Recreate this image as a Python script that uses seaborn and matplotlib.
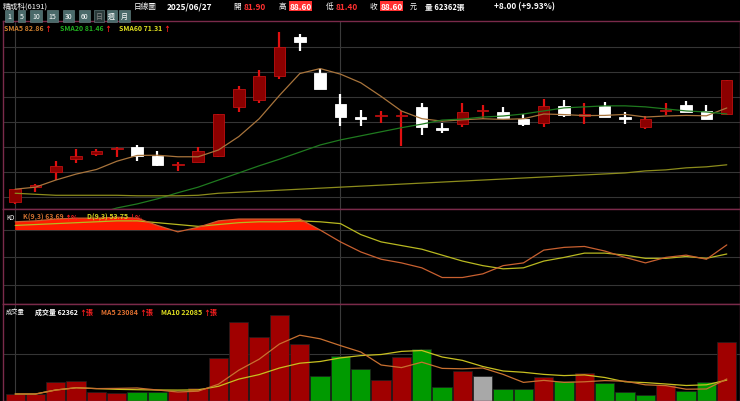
import numpy as np
import pandas as pd
import matplotlib.pyplot as plt
import seaborn as sns

# daily OHLC (36 sessions)
opens = [64.6, 67.5, 70.5, 73.0, 74.0, 75.0, 75.4, 73.6, 71.9, 72.5, 73.6, 83.3, 84.7, 89.4,
         97.1, 90.0, 83.9, 81.3, 81.5, 81.5, 83.3, 79.2, 79.9, 82.5, 82.3, 80.9, 80.1, 83.5,
         81.7, 83.5, 81.3, 79.3, 82.5, 83.7, 82.5, 81.9]
closes = [67.1, 67.9, 71.7, 73.6, 74.6, 75.2, 73.6, 71.9, 72.1, 74.6, 81.9, 86.8, 89.4, 95.1,
          96.1, 86.8, 81.3, 80.9, 81.7, 81.7, 79.3, 78.8, 82.3, 82.7, 81.1, 79.9, 83.5, 81.7,
          81.7, 81.3, 80.9, 80.9, 82.7, 82.3, 80.9, 88.6]
highs = [67.1, 68.1, 72.7, 75.0, 75.0, 75.4, 75.8, 74.6, 72.5, 75.4, 81.9, 87.4, 90.6, 98.1,
         97.7, 90.8, 85.9, 82.7, 82.5, 82.5, 84.1, 80.1, 84.1, 83.7, 83.3, 81.9, 84.9, 84.7,
         84.1, 84.3, 82.3, 81.5, 84.1, 84.5, 83.7, 88.6]
lows = [64.2, 66.5, 68.9, 72.3, 73.6, 73.4, 72.7, 71.7, 70.7, 72.5, 73.4, 82.3, 84.1, 88.8,
        94.3, 86.8, 79.5, 79.5, 80.1, 75.6, 77.8, 78.2, 79.3, 80.9, 81.1, 79.5, 79.3, 81.3,
        79.9, 81.3, 79.9, 79.0, 81.7, 82.3, 80.9, 81.7]
sma20 = [59.3, 59.8, 60.4, 61.2, 62.2, 63.4, 64.2, 65.2, 66.4, 67.5, 68.9, 70.3, 71.7, 73.0,
         74.4, 75.8, 76.8, 77.6, 78.4, 79.2, 79.9, 80.7, 80.9, 81.3, 81.5, 81.9, 82.5, 83.1,
         83.3, 83.5, 83.5, 83.3, 82.9, 82.5, 82.3, 81.9]
sma60 = [66.3, 66.1, 65.9, 65.9, 65.9, 65.9, 65.8, 65.8, 65.8, 65.9, 66.3, 66.5, 66.7, 66.9,
         67.1, 67.3, 67.5, 67.7, 67.9, 68.1, 68.3, 68.5, 68.7, 68.9, 69.1, 69.3, 69.5, 69.7,
         69.9, 70.1, 70.3, 70.7, 70.9, 71.3, 71.5, 71.9]
k_vals = [89, 90, 92, 93, 93, 94, 93, 85, 78, 83, 90, 92, 92, 92, 92, 80, 67, 56, 48, 44,
          38.6, 28, 28, 32, 41, 44, 58, 61, 62, 57, 50, 44, 50, 52.5, 48, 63.69]
d_vals = [85, 86, 87, 88, 89, 90, 90, 88, 86, 84, 86, 88, 89, 89, 90, 89, 87, 75, 67, 63,
          59, 52.5, 46, 41, 37.5, 38.6, 46, 50, 54.7, 54.7, 52.5, 49, 49, 51, 49, 53.75]
volume = [7400, 7400, 20100, 21100, 9500, 8500, 9500, 9500, 10600, 13700, 45500, 83500, 67600,
          90900, 60200, 26400, 47600, 33800, 22200, 46500, 55000, 14800, 31700, 26400, 12700,
          12700, 25400, 21100, 29600, 19000, 9500, 6300, 16900, 10600, 20100, 62362]
vol_dir = ['r', 'r', 'r', 'r', 'r', 'r', 'g', 'g', 'r', 'r', 'r', 'r', 'r', 'r', 'r', 'g', 'g', 'g',
           'r', 'r', 'g', 'g', 'r', 'n', 'g', 'g', 'r', 'g', 'r', 'g', 'g', 'g', 'r', 'g', 'g', 'r']

df = pd.DataFrame({'o': opens, 'c': closes, 'h': highs, 'l': lows, 'sma20': sma20,
                   'sma60': sma60, 'k': k_vals, 'd': d_vals, 'vol': volume})
df['i'] = np.arange(len(df))
df['sma5'] = df['c'].rolling(5, min_periods=1).mean()
df['vma5'] = df['vol'].rolling(5, min_periods=1).mean()
df['vma10'] = df['vol'].rolling(10, min_periods=1).mean()

sns.set_style('dark', {'axes.facecolor': 'black', 'figure.facecolor': 'black'})
plt.rcParams['font.family'] = ['Noto Sans CJK TC', 'DejaVu Sans']


def chain(ax, x, y, parts, fs=5, transform=None):
    # writes pieces of text one after another, each in its own colour
    t = ax.text(x, y, parts[0][0], color=parts[0][1], fontsize=fs, va='top', fontweight='bold',
                transform=transform or ax.transData)
    for txt, col in parts[1:]:
        gap = 6 if txt[0] not in '↑↓' else 0.5
        t = ax.annotate(txt, xy=(1, 0), xycoords=t, xytext=(gap, 0), textcoords='offset points',
                        color=col, fontsize=fs, va='bottom', fontweight='bold')


fig = plt.figure(figsize=(7.4, 4.02), dpi=100)
fig.patch.set_facecolor('black')
XL = (-0.6, 35.65)
ax_p = fig.add_axes([0.004, 0.4776, 0.996, 0.4677])
ax_k = fig.add_axes([0.004, 0.2413, 0.996, 0.2363])
ax_v = fig.add_axes([0.004, 0.0, 0.996, 0.2413])

for ax in (ax_p, ax_k, ax_v):
    ax.set_facecolor('black')
    ax.set_xlim(*XL)
    ax.set_xticks([])
    ax.tick_params(left=False, labelleft=False)
    for s in ax.spines.values():
        s.set_color('#7a2a4a')
        s.set_linewidth(1)
    ax.grid(axis='y', color='#353535', linewidth=0.8)
    for xv in (0, 16):
        ax.axvline(xv, color='#3a3a3a', linewidth=0.8, zorder=0)

# price panel
ax_p.set_ylim(63.2, 100.2)
ax_p.set_yticks([65.6, 70.5, 75.4, 80.3, 85.3, 90.2, 95.1])
ax_p.set_yticklabels([])
for _, r in df.iterrows():
    up = r.c >= r.o
    wick = '#e01010' if up else 'white'
    ax_p.vlines(r.i, r.l, r.h, color=wick, linewidth=1.6, zorder=3)
    lo, hi = min(r.o, r.c), max(r.o, r.c)
    ht = max(hi - lo, 0.25)
    ax_p.bar(r.i, ht, bottom=lo - (ht - (hi - lo)) / 2, width=0.56,
             color='#8b0000' if up else 'white',
             edgecolor='#c01010' if up else 'white', linewidth=0.6, zorder=4)
sns.lineplot(data=df, x='i', y='sma5', ax=ax_p, color='#a8743c', linewidth=0.9, zorder=5)
sns.lineplot(data=df, x='i', y='sma20', ax=ax_p, color='#1f7a1f', linewidth=0.9, zorder=5)
sns.lineplot(data=df, x='i', y='sma60', ax=ax_p, color='#8c8c1c', linewidth=0.9, zorder=5)
ax_p.set_xlabel('')
ax_p.set_ylabel('')
ax_p.set_xlim(*XL)
chain(ax_p, 0.002, 0.985, [('SMA5 82.86', '#d08030'), ('↑', '#ff2020'),
                           ('SMA20 81.46', '#20b020'), ('↑', '#ff2020'),
                           ('SMA60 71.31', '#e0e020'), ('↑', '#ff2020')],
      transform=ax_p.transAxes)

# KD panel
ax_k.set_ylim(-1, 103)
ax_k.set_yticks([20, 50, 80])
ax_k.set_yticklabels([])
kk = df['k'].to_numpy()
ax_k.fill_between(df['i'], 80, kk, where=kk > 80, interpolate=True, color='#ff1a00', linewidth=0, zorder=2)
sns.lineplot(data=df, x='i', y='d', ax=ax_k, color='#b8b820', linewidth=0.9, zorder=3)
sns.lineplot(data=df, x='i', y='k', ax=ax_k, color='#c86030', linewidth=0.9, zorder=3)
ax_k.set_xlabel('')
ax_k.set_ylabel('')
ax_k.set_xlim(*XL)
ax_k.text(-0.45, 99, 'KD', color='white', fontsize=4.5, va='top')
chain(ax_k, 0.4, 99, [('K(9,3) 63.69', '#d07030'), ('↑%', '#ff2020'),
                      ('D(9,3) 53.75', '#d0d020'), ('↓%', '#ff2020')])

# volume panel
ax_v.set_ylim(0, 102500)
ax_v.set_yticks([50000])
ax_v.set_yticklabels([])
vcol = {'r': '#a00000', 'g': '#009a00', 'n': '#a8a8a8'}
ax_v.bar(df['i'], df['vol'], width=0.95, color=[vcol[c] for c in vol_dir],
         edgecolor='#202020', linewidth=0.5, zorder=2)
sns.lineplot(data=df, x='i', y='vma10', ax=ax_v, color='#c8c020', linewidth=0.9, zorder=3)
sns.lineplot(data=df, x='i', y='vma5', ax=ax_v, color='#c87030', linewidth=0.9, zorder=3)
ax_v.set_xlabel('')
ax_v.set_ylabel('')
ax_v.set_xlim(*XL)
ax_v.text(-0.45, 99000, '成交量', color='white', fontsize=4.5, va='top')
chain(ax_v, 1.0, 99000, [('成交量 62362', 'white'), ('↑張', '#ff2020'),
                         ('MA5 23084', '#e07030'), ('↑張', '#ff2020'),
                         ('MA10 22085', '#e0e020'), ('↑張', '#ff2020')])

# header
hy = 1 - 7 / 402
fig.text(0.004, hy, '精成科(6191)', color='white', fontsize=5.5, va='center')
fig.text(0.18, hy, '日線圖', color='white', fontsize=5.5, va='center')
fig.text(0.225, hy, '2025/06/27', color='white', fontsize=6, va='center', fontweight='bold')
items = [('開', '81.90', False, 0.315), ('高', '88.60', True, 0.377), ('低', '81.40', False, 0.44),
         ('收', '88.60', True, 0.5)]
for lab, val, boxed, xx in items:
    fig.text(xx, hy, lab, color='white', fontsize=5.5, va='center')
    if boxed:
        fig.text(xx + 0.014, hy, val, color='white', fontsize=6, va='center', fontweight='bold',
                 bbox=dict(boxstyle='square,pad=0.1', fc='#ff3030', ec='none'))
    else:
        fig.text(xx + 0.014, hy, val, color='#ff3030', fontsize=6, va='center', fontweight='bold')
fig.text(0.553, hy, '元', color='white', fontsize=5, va='center')
fig.text(0.575, hy, '量 62362張', color='white', fontsize=5.5, va='center', fontweight='bold')
fig.text(0.667, hy, '+8.00 (+9.93%)', color='white', fontsize=6, va='center', fontweight='bold')

buttons = ['1', '5', '10', '15', '30', '60', '日', '週', '月']
bx = 0.006
for b in buttons:
    w = 0.012 if len(b) == 1 else 0.017
    fc = '#2a3a3a' if b == '日' else '#4a6a6a'
    fig.text(bx + w / 2, 1 - 17 / 402, b, color='white' if b != '日' else '#888888', fontsize=5,
             ha='center', va='center',
             bbox=dict(boxstyle='square,pad=0.25', fc=fc, ec='#6a8a8a', linewidth=0.4))
    bx += w + 0.005

fig.savefig('out.png', dpi=100, facecolor='black')
